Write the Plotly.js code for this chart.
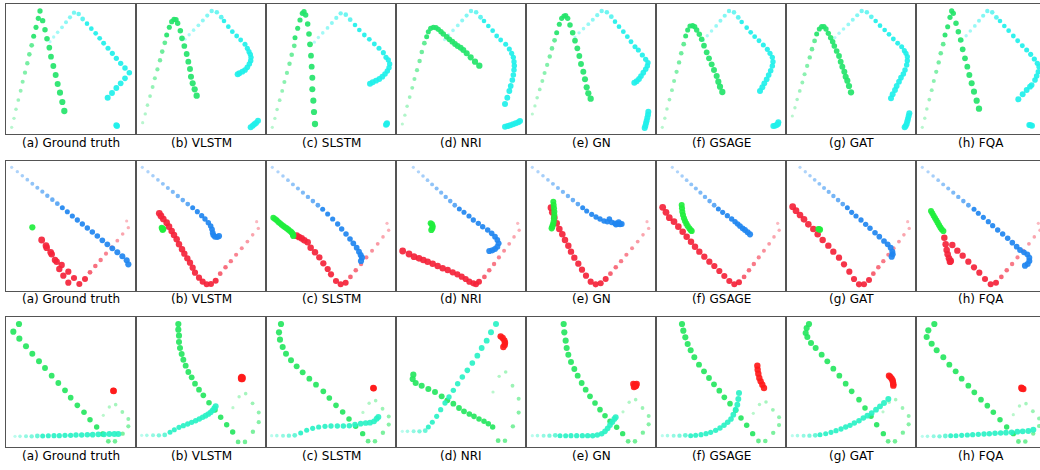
<!DOCTYPE html>
<html><head><meta charset="utf-8">
<script src="https://cdn.plot.ly/plotly-3.0.1.min.js"></script>
<style>html,body{margin:0;padding:0;background:#fff;overflow:hidden;width:1040px;height:470px}#chart{width:1050px;height:470px}</style>
</head><body><div id="chart"></div>
<script>
// ---------- captions ----------
const CAPTIONS = ['(a) Ground truth','(b) VLSTM','(c) SLSTM','(d) NRI','(e) GN','(f) GSAGE','(g) GAT','(h) FQA'];

// ---------- observed history (shared by every panel of a row, in ground-truth panel units) ----------
const R1_OBS_GREEN = [[17,370],[24,343],[30,316],[37,288],[44,260],[50,233],[57,206],[64,178],[70,151],[77,124]];
const R1_OBS_CYAN  = [[132,113],[143,99],[155,85],[168,70],[180,55],[192,40],[204,26],[218,30],[230,45]];
const R2_OBS_BLUE  = [[17,19],[34,32],[49,44],[64,56],[79,68],[94,80],[109,92],[124,104],[139,116],[154,128]];
const R2_OBS_RED   = [[362,180],[367,200],[350,219],[334,239],[317,259],[300,278],[284,297],[268,315],[252,334]];
const R3_OBS_CYAN  = [[27,358],[42,358],[60,358],[77,358],[94,357]];
const R3_OBS_GREEN = [[292,295],[310,270],[329,263],[349,285],[367,306],[367,328],[350,350],[327,373],[307,373]];

// reference points of the history as they appear in each panel (ground truth first)
const R1_REF = [[17,370],[204,26]];
const R1_ANCH = [[[17,370],[204,26]],[[20,356],[227,21]],[[19,370],[224,28]],[[19,360],[225,21]],[[19,330],[227,21]],[[19,370],[219,21]],[[19,336],[227,21]],[[19,370],[214,21]]];
const R2_REF = [[17,19],[362,180]];
const R2_ANCH = [[[17,19],[362,180]],[[19,19],[362,182]],[[19,19],[363,187]],[[52,19],[365,187]],[[19,19],[363,182]],[[49,19],[365,187]],[[42,19],[365,182]],[[19,19],[367,187]]];
const R3_REF = [[27,358],[329,263]];
const R3_ANCH = [[[27,358],[329,263]],[[17,355],[329,230]],[[17,356],[329,251]],[[19,343],[329,165]],[[19,356],[329,248]],[[19,356],[330,255]],[[19,356],[329,248]],[[19,358],[330,260]]];

// ---------- row 1 futures (panel units) ----------
const R1A_GREEN=[[83,97],[90,70],[97,43],[102,21],[110,50],[117,77],[123,104],[130,131],[135,158],[142,186],[149,213],[155,240],[162,266],[169,294],[175,321]];
const R1A_CYAN=[[243,59],[256,74],[269,88],[281,103],[293,118],[306,133],[319,148],[331,163],[344,178],[357,192],[370,206],[357,223],[344,238],[331,252],[318,267],[305,281]];
const R1A_STAT=[[331,364],[333,366]];
const R1B_GREEN=[[92,93],[100,70],[107,53],[114,46],[120,47],[125,58],[133,80],[138,103],[145,126],[152,150],[157,173],[162,195],[165,218],[170,238],[176,256],[182,275]];
const R1B_CYAN=[[264,51],[277,68],[289,83],[302,96],[314,108],[327,121],[334,133],[339,143],[343,151],[345,160],[344,170],[340,180],[334,190],[327,198],[319,203],[310,208],[305,211]];
const R1B_STAT=[[344,370],[350,365],[355,361],[360,357],[366,350]];
const R1C_GREEN=[[87,101],[95,73],[102,48],[109,28],[114,23],[119,33],[125,60],[129,90],[132,121],[135,155],[137,188],[139,221],[139,256],[142,290],[144,324],[147,360]];
const R1C_CYAN=[[267,63],[280,78],[295,93],[310,106],[325,120],[339,133],[352,146],[360,160],[367,168],[371,180],[369,191],[364,201],[357,210],[349,218],[340,225],[330,230],[320,235],[312,239]];
const R1C_STAT=[[360,362],[363,358],[362,360]];
const R1D_GREEN=[[92,98],[97,83],[104,73],[112,70],[120,71],[127,76],[135,83],[142,90],[152,98],[160,106],[169,113],[177,120],[185,126],[194,131],[202,138],[212,148],[224,160],[237,173],[250,185]];
const R1D_CYAN=[[264,51],[277,66],[290,80],[302,96],[314,108],[329,121],[340,135],[347,148],[352,160],[354,173],[355,185],[354,198],[352,213],[349,228],[344,246],[340,261],[334,281],[327,300]];
const R1D_STAT=[[327,368],[335,366],[343,364],[351,361],[359,358],[367,355],[372,351]];
const R1E_GREEN=[[92,86],[100,61],[107,43],[114,36],[119,35],[125,43],[132,63],[140,86],[147,110],[154,133],[160,156],[165,180],[172,203],[177,226],[182,250],[187,268],[194,284]];
const R1E_CYAN=[[267,53],[279,68],[292,83],[304,98],[315,113],[327,128],[337,138],[349,153],[359,166],[366,176],[364,186],[359,196],[352,206],[345,216],[339,225],[332,232],[325,236]];
const R1E_STAT=[[367,323],[366,332],[364,341],[362,350],[360,358],[358,366],[356,372]];
const R1F_GREEN=[[89,96],[95,78],[102,66],[110,65],[116,68],[122,78],[130,91],[137,106],[144,125],[152,145],[159,163],[167,181],[174,198],[182,216],[187,233],[192,248],[199,264]];
const R1F_CYAN=[[257,54],[272,71],[284,85],[296,98],[309,110],[322,123],[334,136],[342,148],[349,160],[351,173],[349,186],[344,200],[338,213],[332,226],[325,238],[319,250],[312,261]];
const R1F_STAT=[[352,366],[357,365],[362,363],[366,360],[367,355]];
const R1G_GREEN=[[92,90],[100,75],[107,68],[114,68],[120,75],[127,88],[134,101],[140,113],[145,126],[152,141],[159,156],[164,173],[169,188],[175,203],[179,218],[184,230],[189,246],[195,265]];
const R1G_CYAN=[[269,51],[282,65],[296,78],[309,91],[322,105],[335,118],[347,128],[355,140],[360,148],[364,158],[364,170],[362,183],[357,198],[352,210],[345,221],[339,233],[332,246],[327,258],[320,271],[315,283]];
const R1G_STAT=[[370,328],[368,336],[366,344],[364,352],[362,360],[359,366],[356,370]];
const R1H_GREEN=[[87,93],[95,68],[102,40],[107,21],[112,28],[120,58],[127,83],[134,108],[140,136],[147,163],[154,188],[160,213],[167,238],[174,263],[182,290],[189,314]];
const R1H_CYAN=[[252,51],[265,66],[278,80],[292,96],[305,110],[319,125],[332,138],[344,151],[355,165],[364,178],[369,188],[367,203],[362,216],[357,228],[347,243],[342,248],[332,258],[320,271],[307,286]];
const R1H_STAT=[[340,363],[344,364],[348,365]];

// ---------- row 2 futures ----------
const R2A_BLUE=[[169,140],[184,152],[199,165],[214,177],[229,189],[244,201],[259,213],[274,225],[289,238],[304,250],[319,262],[334,274],[349,286],[362,298],[367,310]];
const R2A_RED=[[237,354],[220,369],[204,351],[187,365],[187,332],[172,344],[167,312],[160,324],[152,302],[147,297],[137,280],[134,274],[122,260],[120,254],[107,237]];
const R2A_GREEN=[[79,199]];
const R2B_BLUE=[[170,140],[184,152],[197,164],[207,174],[217,185],[224,195],[228,205],[230,215],[232,222],[237,227],[244,228],[249,225]];
const R2B_RED=[[239,359],[225,369],[212,370],[200,362],[189,350],[177,335],[170,320],[162,305],[154,292],[145,278],[138,265],[129,250],[122,235],[114,222],[107,210],[99,197],[92,185],[82,174],[75,165],[70,157]];
const R2B_GREEN=[[77,200],[80,207],[82,204],[79,203]];
const R2C_BLUE=[[170,145],[185,159],[200,174],[215,189],[227,204],[240,219],[252,234],[262,247],[272,260],[279,272],[284,282],[288,290],[285,300]];
const R2C_RED=[[239,365],[224,370],[210,360],[195,340],[185,324],[172,307],[160,289],[147,274],[134,260],[125,244],[115,238],[107,232],[99,228],[92,224]];
const R2C_GREEN=[[22,170],[27,174],[32,178],[37,183],[42,187],[47,191],[52,195],[57,199],[62,202],[67,206],[72,210],[76,213],[79,217],[81,221],[82,225]];
const R2D_BLUE=[[190,144],[204,154],[219,165],[232,177],[247,187],[260,197],[275,207],[287,217],[297,227],[304,237],[308,247],[304,257],[297,264],[289,268],[280,270]];
const R2D_RED=[[249,362],[240,370],[232,367],[220,362],[209,354],[197,347],[184,340],[170,334],[155,327],[140,322],[125,315],[110,308],[95,302],[82,297],[69,292],[54,287],[39,279],[20,270]];
const R2D_GREEN=[[104,187],[108,190],[110,196],[109,202],[106,207]];
const R2E_BLUE=[[170,140],[182,150],[197,160],[210,168],[222,174],[234,180],[244,182],[250,174],[257,184],[267,187],[275,189],[282,190],[287,189],[278,184],[270,190]];
const R2E_RED=[[239,354],[224,367],[209,370],[194,362],[180,344],[168,326],[157,308],[145,290],[135,272],[127,254],[117,237],[109,220],[100,204],[92,187],[85,170],[79,154],[75,140]];
const R2E_GREEN=[[82,122],[83,132],[84,142],[85,152],[85,162],[84,172],[83,182],[81,190],[79,197],[77,202]];
const R2F_BLUE=[[187,144],[200,154],[214,164],[227,174],[237,182],[245,189],[252,195],[260,202],[267,207],[275,214],[282,220]];
const R2F_RED=[[249,364],[235,370],[220,360],[205,345],[190,330],[175,315],[160,302],[145,287],[130,272],[117,257],[105,242],[92,227],[80,212],[67,197],[54,182],[40,170],[30,154],[20,139]];
const R2F_GREEN=[[77,132],[78,142],[79,152],[81,162],[84,172],[87,180],[91,188],[95,195],[100,202],[104,207],[107,210]];
const R2G_BLUE=[[184,140],[197,154],[210,165],[225,177],[239,190],[252,202],[267,215],[280,227],[294,240],[305,250],[314,260],[319,272],[320,280],[317,287]];
const R2G_RED=[[249,357],[234,370],[219,370],[204,354],[190,332],[174,310],[159,290],[142,272],[127,254],[110,237],[95,220],[82,204],[67,190],[54,175],[42,162],[30,149],[20,137]];
const R2G_GREEN=[[97,204],[100,205],[102,206]];
const R2H_BLUE=[[174,145],[187,157],[202,169],[217,182],[230,194],[245,207],[260,219],[275,232],[289,245],[302,257],[312,267],[324,274],[334,280],[340,290],[340,300],[335,309],[327,314]];
const R2H_RED=[[240,365],[224,370],[207,354],[190,335],[174,319],[157,302],[140,284],[124,269],[109,252],[85,230],[89,250],[92,267],[95,280],[99,292],[102,302],[104,300]];
const R2H_GREEN=[[45,150],[49,157],[53,164],[57,171],[61,178],[65,185],[69,192],[73,199],[77,205],[82,210]];

// ---------- row 3 futures ----------
const R3A_GREEN=[[290,351],[272,330],[252,308],[234,286],[214,265],[194,242],[177,220],[157,198],[137,176],[117,153],[99,133],[79,110],[60,88],[40,65],[22,44],[39,21]];
const R3A_CYAN=[[110,357],[127,356],[144,356],[160,356],[177,355],[194,355],[210,354],[227,354],[244,353],[260,353],[277,352],[294,352],[310,351],[325,351],[337,351]];
const R3A_RED=[[322,221],[323,222]];
const R3B_GREEN=[[290,345],[272,323],[254,301],[237,279],[219,257],[202,235],[189,218],[177,200],[167,181],[157,165],[149,146],[142,128],[137,111],[132,93],[129,75],[129,56],[127,38],[127,21]];
const R3B_CYAN=[[102,346],[115,338],[129,331],[142,326],[155,321],[167,316],[179,311],[190,306],[200,301],[209,296],[217,291],[224,286],[230,280],[235,274],[239,268]];
const R3B_RED=[[315,183],[317,180],[320,182],[319,186],[316,186]];
const R3C_GREEN=[[290,350],[269,328],[249,306],[230,285],[210,265],[190,243],[172,223],[150,203],[130,185],[110,166],[92,148],[75,130],[60,110],[50,90],[42,68],[39,46],[45,21]];
const R3C_CYAN=[[104,348],[122,340],[140,334],[158,330],[177,328],[195,327],[214,327],[232,327],[250,326],[267,323],[284,320],[299,318],[312,317],[324,313],[332,305],[337,300]];
const R3C_RED=[[322,213],[323,214]];
const R3D_GREEN=[[290,330],[277,320],[264,313],[249,306],[234,298],[220,291],[204,283],[189,273],[172,260],[154,250],[137,238],[117,225],[97,216],[77,206],[59,198],[50,186],[52,173]];
const R3D_CYAN=[[97,330],[109,316],[122,298],[134,278],[147,258],[159,240],[172,220],[185,200],[199,180],[214,160],[229,138],[244,116],[257,93],[272,71],[285,46],[300,21]];
const R3D_RED=[[314,58],[320,63],[325,70],[327,77],[326,84],[322,90]];
const R3E_GREEN=[[290,350],[272,331],[252,313],[237,296],[222,278],[207,258],[192,238],[179,218],[167,198],[155,176],[145,156],[135,135],[127,113],[122,93],[119,71],[115,46],[113,21]];
const R3E_CYAN=[[102,356],[119,356],[135,356],[152,356],[169,356],[185,356],[200,356],[214,354],[227,350],[237,343],[245,334],[252,324],[259,315],[265,306],[269,301]];
const R3E_RED=[[322,201],[327,203],[332,201],[328,208],[324,210],[330,206]];
const R3F_GREEN=[[290,350],[272,325],[255,303],[239,280],[222,260],[205,241],[190,221],[174,202],[159,183],[144,163],[129,143],[115,121],[104,100],[95,81],[88,61],[82,41],[78,21]];
const R3F_CYAN=[[104,356],[119,355],[135,353],[150,350],[164,346],[179,340],[192,333],[204,325],[215,316],[225,306],[232,293],[239,278],[244,263],[247,246],[249,228]];
const R3F_RED=[[304,146],[305,158],[307,170],[310,183],[314,193],[319,203],[324,213]];
const R3G_GREEN=[[292,350],[272,323],[255,298],[237,273],[219,248],[197,223],[179,200],[160,176],[142,155],[124,133],[107,113],[89,93],[75,78],[64,60],[59,48],[62,33],[69,21]];
const R3G_CYAN=[[102,353],[119,350],[135,346],[150,341],[165,336],[179,330],[192,325],[205,318],[219,311],[232,303],[244,296],[257,288],[270,278],[282,268],[294,258],[307,246]];
const R3G_RED=[[309,176],[313,180],[317,185],[320,190],[321,196],[322,202],[322,206]];
const R3H_GREEN=[[292,350],[272,330],[252,308],[232,286],[214,266],[195,248],[175,226],[157,206],[137,185],[119,163],[100,143],[82,121],[62,100],[47,80],[32,60],[37,40],[55,21]];
const R3H_CYAN=[[104,356],[120,356],[137,355],[154,354],[170,353],[187,352],[204,351],[220,350],[237,349],[254,348],[270,347],[287,346],[304,344],[320,343],[337,342],[352,338]];
const R3H_RED=[[316,212],[319,214],[322,216],[318,215]];

// ---------- styling ----------
const COL = {g1:'#24e46a', c1:'#1ff0ea', b2:'#1f86f0', r2:'#f4233a', g2:'#20ee3c', g3:'#26e660', c3:'#2af2c6', r3:'#ff1a1a'};
const W = 1050, H = 470, SPAN = 390;
const PANEL_LEFT0 = 6, PANEL_W = 130, PANEL_H = 130;
const ROW_TOPS = [4, 161, 317];
const CAPTION_Y = [143, 299, 456];

const ROWS = [
  { ref:R1_REF, anch:R1_ANCH,
    obs:[{p:R1_OBS_GREEN,c:COL.g1},{p:R1_OBS_CYAN,c:COL.c1}],
    fut:[[R1A_GREEN,R1A_CYAN,R1A_STAT],[R1B_GREEN,R1B_CYAN,R1B_STAT],[R1C_GREEN,R1C_CYAN,R1C_STAT],[R1D_GREEN,R1D_CYAN,R1D_STAT],
         [R1E_GREEN,R1E_CYAN,R1E_STAT],[R1F_GREEN,R1F_CYAN,R1F_STAT],[R1G_GREEN,R1G_CYAN,R1G_STAT],[R1H_GREEN,R1H_CYAN,R1H_STAT]],
    futStyle:[{c:COL.g1,s0:5,s1:6.3},{c:COL.c1,s0:4.6,s1:6},{c:COL.c1,s0:6,s1:6}] },
  { ref:R2_REF, anch:R2_ANCH,
    obs:[{p:R2_OBS_BLUE,c:COL.b2},{p:R2_OBS_RED,c:COL.r2}],
    fut:[[R2A_BLUE,R2A_RED,R2A_GREEN],[R2B_BLUE,R2B_RED,R2B_GREEN],[R2C_BLUE,R2C_RED,R2C_GREEN],[R2D_BLUE,R2D_RED,R2D_GREEN],
         [R2E_BLUE,R2E_RED,R2E_GREEN],[R2F_BLUE,R2F_RED,R2F_GREEN],[R2G_BLUE,R2G_RED,R2G_GREEN],[R2H_BLUE,R2H_RED,R2H_GREEN]],
    futStyle:[{c:COL.b2,s0:5,s1:6.2},{c:COL.r2,s0:6,s1:6.8},{c:COL.g2,s0:6,s1:6.2}] },
  { ref:R3_REF, anch:R3_ANCH,
    obs:[{p:R3_OBS_CYAN,c:COL.c3},{p:R3_OBS_GREEN,c:COL.g3}],
    fut:[[R3A_GREEN,R3A_CYAN,R3A_RED],[R3B_GREEN,R3B_CYAN,R3B_RED],[R3C_GREEN,R3C_CYAN,R3C_RED],[R3D_GREEN,R3D_CYAN,R3D_RED],
         [R3E_GREEN,R3E_CYAN,R3E_RED],[R3F_GREEN,R3F_CYAN,R3F_RED],[R3G_GREEN,R3G_CYAN,R3G_RED],[R3H_GREEN,R3H_CYAN,R3H_RED]],
    futStyle:[{c:COL.g3,s0:5.4,s1:6.2},{c:COL.c3,s0:5,s1:6},{c:COL.r3,s0:6.4,s1:6.4}] }
];

function ramp(n, a, b){ const out=[]; for(let i=0;i<n;i++) out.push(n>1 ? a+(b-a)*i/(n-1) : b); return out; }
function rangesFor(ref, anch){
  const ax=(anch[1][0]-anch[0][0])/(ref[1][0]-ref[0][0]), bx=anch[0][0]-ax*ref[0][0];
  const ay=(anch[1][1]-anch[0][1])/(ref[1][1]-ref[0][1]), by=anch[0][1]-ay*ref[0][1];
  return { x:[(0-bx)/ax,(SPAN-bx)/ax], y:[(SPAN-by)/ay,(0-by)/ay] };
}

const traces = [];
const layout = { width:W, height:H, margin:{l:0,r:0,t:0,b:0}, paper_bgcolor:'#fff', plot_bgcolor:'rgba(0,0,0,0)',
  showlegend:false, hovermode:false, annotations:[] };
const baseAxis = { showgrid:false, zeroline:false, showticklabels:false, ticks:'', showline:true, mirror:true,
  linecolor:'#545454', linewidth:1, fixedrange:true };

ROWS.forEach((row, r) => {
  for (let c = 0; c < 8; c++) {
    const n = r*8 + c + 1, m = n + 24;
    const left = PANEL_LEFT0 + PANEL_W*c, top = ROW_TOPS[r];
    const rg = rangesFor(row.ref, row.anch[c]);
    layout['xaxis'+n] = Object.assign({}, baseAxis, {domain:[left/W,(left+PANEL_W)/W], anchor:'y'+n, range:rg.x});
    layout['yaxis'+n] = Object.assign({}, baseAxis, {domain:[1-(top+PANEL_H)/H, 1-top/H], anchor:'x'+n, range:rg.y});
    layout['xaxis'+m] = {overlaying:'x'+n, anchor:'y'+m, visible:false, range:[0,SPAN], fixedrange:true};
    layout['yaxis'+m] = {overlaying:'y'+n, anchor:'x'+m, visible:false, range:[SPAN,0], fixedrange:true};
    // history (light, small, growing)
    row.obs.forEach(o => {
      traces.push({ type:'scatter', mode:'markers', xaxis:'x'+n, yaxis:'y'+n,
        x:o.p.map(q=>q[0]), y:o.p.map(q=>q[1]),
        marker:{ color:o.c, size:ramp(o.p.length,3.2,4.8), opacity:ramp(o.p.length,0.32,0.7), line:{width:0} } });
    });
    // future (saturated)
    row.fut[c].forEach((pts, k) => {
      const st = row.futStyle[k];
      traces.push({ type:'scatter', mode:'markers', xaxis:'x'+m, yaxis:'y'+m,
        x:pts.map(q=>q[0]), y:pts.map(q=>q[1]),
        marker:{ color:st.c, size:ramp(pts.length,st.s0,st.s1), opacity:0.92, line:{width:0} } });
    });
    layout.annotations.push({ text:CAPTIONS[c], xref:'paper', yref:'paper',
      x:(left+PANEL_W/2)/W, y:1-CAPTION_Y[r]/H, xanchor:'center', yanchor:'middle', showarrow:false,
      font:{family:'DejaVu Sans, sans-serif', size:12, color:'#000'} });
  }
});

Plotly.newPlot('chart', traces, layout, {staticPlot:true, displayModeBar:false});
</script>
</body></html>
